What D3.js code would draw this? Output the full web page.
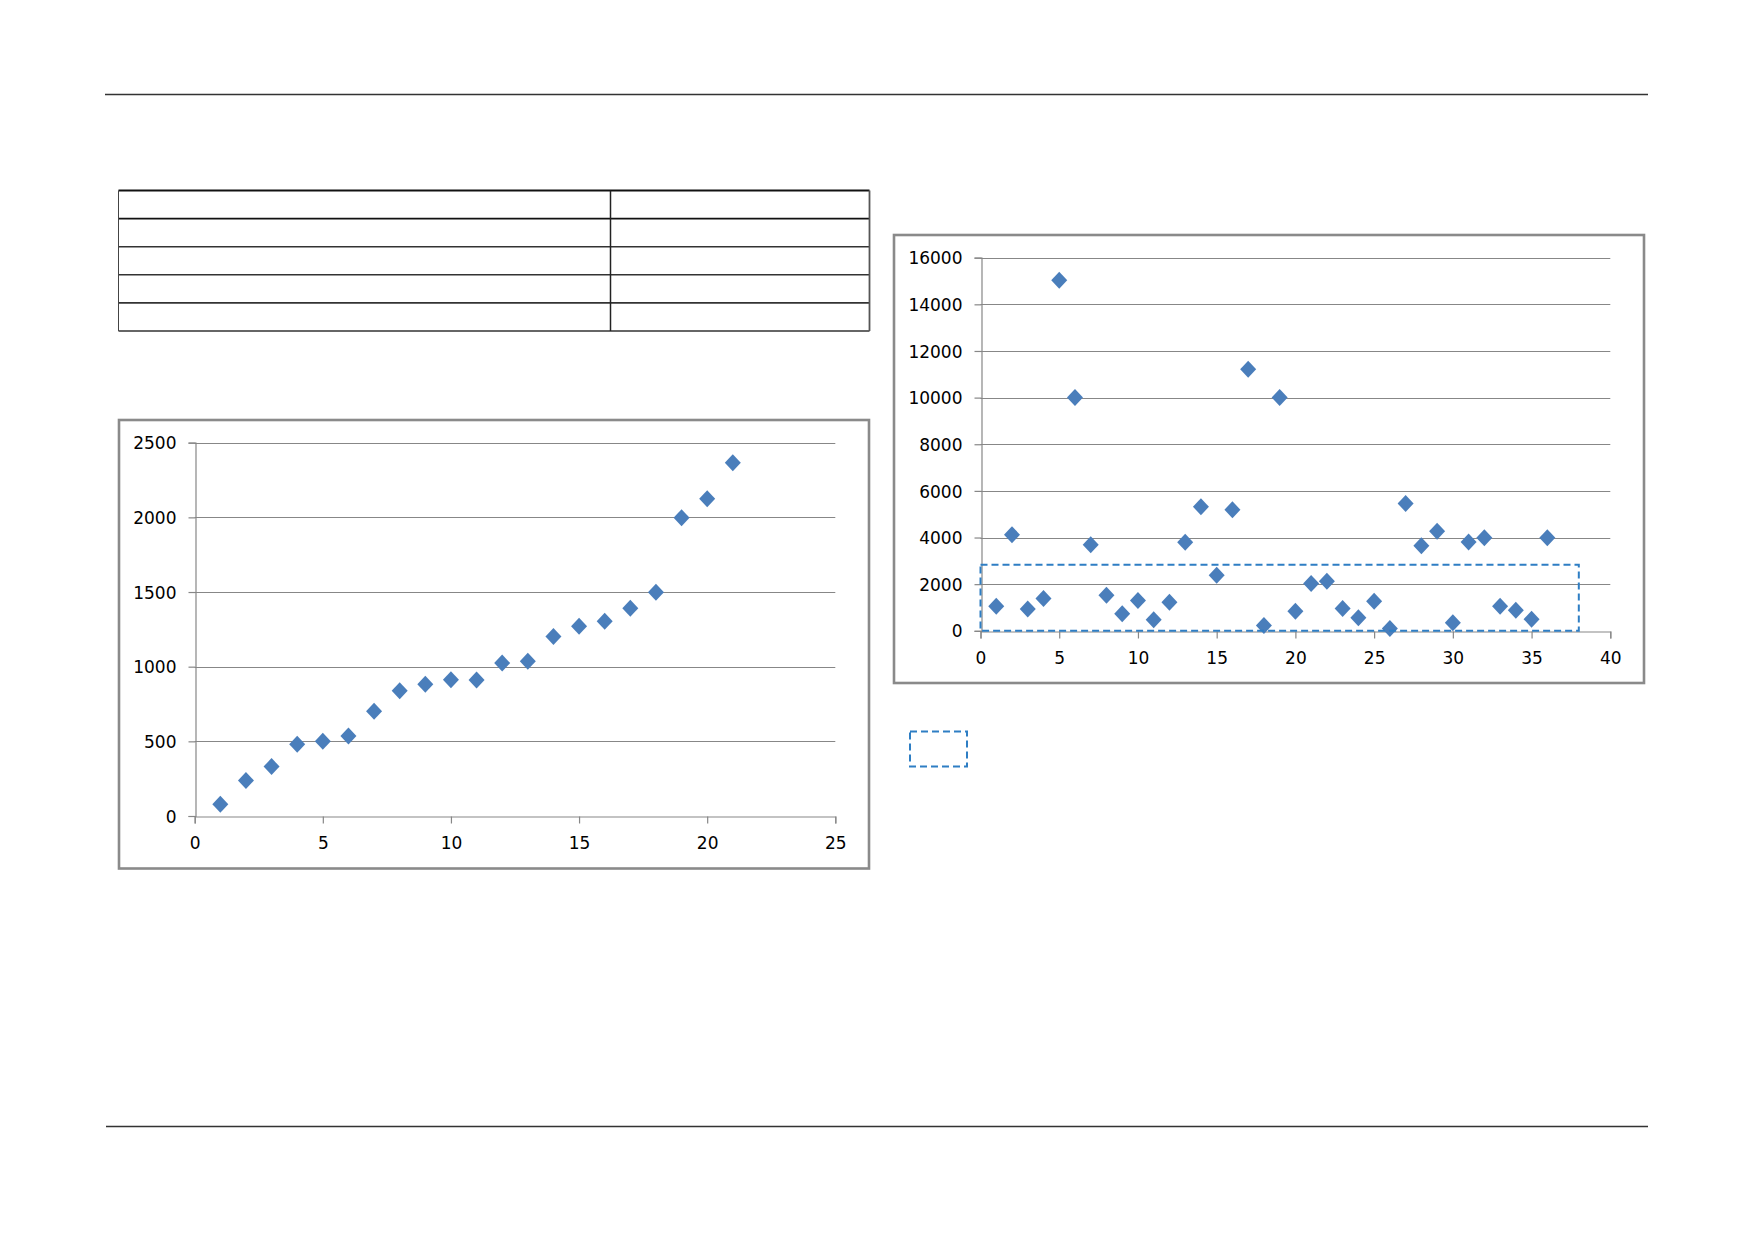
<!DOCTYPE html>
<html>
<head>
<meta charset="utf-8">
<script src="https://cdn.jsdelivr.net/npm/d3@7"></script>
<style>
  html, body { margin: 0; padding: 0; background: #fff; }
  svg { display: block; }
  text { font-family: "DejaVu Sans", sans-serif; fill: #000; }
</style>
</head>
<body>
<svg id="page" width="1754" height="1239"></svg>
<script>
// ---------- data ----------
const leftX = [1,2,3,4,5,6,7,8,9,10,11,12,13,14,15,16,17,18,19,20,21];
const leftY = [78,238,331,480,500,535,702,838,882,912,910,1024,1037,1202,1271,1304,1391,1498,1998,2125,2365];
const leftXTicks = [0,5,10,15,20,25];
const leftYTicks = [0,500,1000,1500,2000,2500];

const rightX = [1,2,3,4,5,6,7,8,9,10,11,12,13,14,15,16,17,18,19,20,21,22,23,24,25,26,27,28,29,30,31,32,33,34,35,36];
const rightY = [1055,4120,940,1385,15030,10010,3690,1525,730,1300,470,1225,3795,5320,2380,5190,11220,230,10010,840,2025,2125,955,555,1270,100,5460,3650,4265,345,3805,3995,1055,885,500,3995];
const rightXTicks = [0,5,10,15,20,25,30,35,40];
const rightYTicks = [0,2000,4000,6000,8000,10000,12000,14000,16000];
// highlighted region (data units): x from 0 to 38, y from 0 to 2830
const regionX = [0, 38];
const regionY = [0, 2830];

const tableRows = 5;

// ---------- drawing ----------
const svg = d3.select("#page");
const GRID = "#878787";
const FRAME = "#8a8a8a";
const MARK = "#4A7EBB";
const DASH = "#2E7EC4";
const FS = 17;

// page header / footer rules
svg.append("line").attr("x1",105).attr("x2",1648).attr("y1",94.5).attr("y2",94.5)
   .attr("stroke","#333").attr("stroke-width",1.3);
svg.append("line").attr("x1",106).attr("x2",1648).attr("y1",1126.5).attr("y2",1126.5)
   .attr("stroke","#333").attr("stroke-width",1.3);

// empty table
(function(){
  const x0 = 118.5, x1 = 869.5, xd = 610.5;
  const ys = d3.range(tableRows+1).map(i => 190.5 + i*28.1);
  const g = svg.append("g");
  ys.forEach((y,i) => {
    g.append("line").attr("x1",x0).attr("x2",x1).attr("y1",y).attr("y2",y)
     .attr("stroke", i < 2 ? "#111" : "#333").attr("stroke-width", i===0||i===1 ? 1.8 : 1.6);
  });
  g.append("line").attr("x1",x0).attr("x2",x0).attr("y1",ys[0]).attr("y2",ys[tableRows])
   .attr("stroke","#444").attr("stroke-width",1);
  g.append("line").attr("x1",xd).attr("x2",xd).attr("y1",ys[0]).attr("y2",ys[tableRows])
   .attr("stroke","#222").attr("stroke-width",1.5);
  g.append("line").attr("x1",x1).attr("x2",x1).attr("y1",ys[0]).attr("y2",ys[tableRows])
   .attr("stroke","#555").attr("stroke-width",1.8);
})();

const diamond = "M0,-8.5L8,0L0,8.5L-8,0Z";

function scatter(opts) {
  const { frame, plot, xs, ys, xDomain, yDomain, xTicks, yTicks } = opts;
  const g = svg.append("g");
  g.append("rect").attr("x",frame.x).attr("y",frame.y).attr("width",frame.w).attr("height",frame.h)
    .attr("fill","#fff").attr("stroke",FRAME).attr("stroke-width",2.6);

  const x = d3.scaleLinear().domain(xDomain).range([plot.x0, plot.x1]);
  const y = d3.scaleLinear().domain(yDomain).range([plot.y0, plot.y1]);

  // gridlines
  g.append("g").selectAll("line").data(yTicks.filter(d => d !== yDomain[0])).join("line")
    .attr("x1", plot.x0).attr("x2", plot.x1)
    .attr("y1", d => Math.round(y(d))+0.5).attr("y2", d => Math.round(y(d))+0.5)
    .attr("stroke", GRID).attr("stroke-width", 1.2);

  // y axis
  const ya = g.append("g").attr("transform", `translate(${Math.round(plot.x0)+0.5},0)`)
    .call(d3.axisLeft(y).tickValues(yTicks).tickSize(7).tickPadding(12).tickFormat(d3.format("d")));
  ya.select(".domain").attr("stroke", GRID).attr("stroke-width",1.2);
  ya.selectAll(".tick line").attr("stroke", GRID).attr("stroke-width",1.2);
  ya.selectAll(".tick text").attr("font-size",FS).attr("font-family","DejaVu Sans").attr("fill","#111")
    .attr("dy","0.36em");

  // x axis
  const xa = g.append("g").attr("transform", `translate(0,${Math.round(plot.y0)+0.5})`)
    .call(d3.axisBottom(x).tickValues(xTicks).tickSize(7).tickPadding(13).tickFormat(d3.format("d")));
  xa.select(".domain").attr("stroke", GRID).attr("stroke-width",1.2);
  xa.selectAll(".tick line").attr("stroke", GRID).attr("stroke-width",1.2);
  xa.selectAll(".tick text").attr("font-size",FS).attr("font-family","DejaVu Sans").attr("fill","#111");

  // points
  g.append("g").selectAll("path").data(xs.map((d,i)=>[d, ys[i]])).join("path")
    .attr("d", diamond)
    .attr("transform", d => `translate(${x(d[0])},${y(d[1])})`)
    .attr("fill", MARK);

  return { g, x, y };
}

// left chart
scatter({
  frame: { x: 119, y: 420, w: 750, h: 448.5 },
  plot: { x0: 194.7, x1: 835.3, y0: 816, y1: 442.7 },
  xs: leftX, ys: leftY,
  xDomain: [0, 25], yDomain: [0, 2500],
  xTicks: leftXTicks, yTicks: leftYTicks
});

// right chart
const R = scatter({
  frame: { x: 894, y: 235, w: 750, h: 448 },
  plot: { x0: 980.5, x1: 1610.3, y0: 630.8, y1: 257.7 },
  xs: rightX, ys: rightY,
  xDomain: [0, 40], yDomain: [0, 16000],
  xTicks: rightXTicks, yTicks: rightYTicks
});

// highlighted region inside the right chart
R.g.append("rect")
  .attr("x", R.x(regionX[0]))
  .attr("y", R.y(regionY[1]))
  .attr("width", R.x(regionX[1]) - R.x(regionX[0]))
  .attr("height", R.y(regionY[0]) - R.y(regionY[1]))
  .attr("fill", "none").attr("stroke", DASH).attr("stroke-width", 2)
  .attr("stroke-dasharray", "7,4");

// legend box (dashed)
svg.append("rect").attr("x", 910).attr("y", 731.5).attr("width", 57).attr("height", 35)
  .attr("fill","none").attr("stroke", DASH).attr("stroke-width", 2).attr("stroke-dasharray","7,4");
</script>
</body>
</html>
